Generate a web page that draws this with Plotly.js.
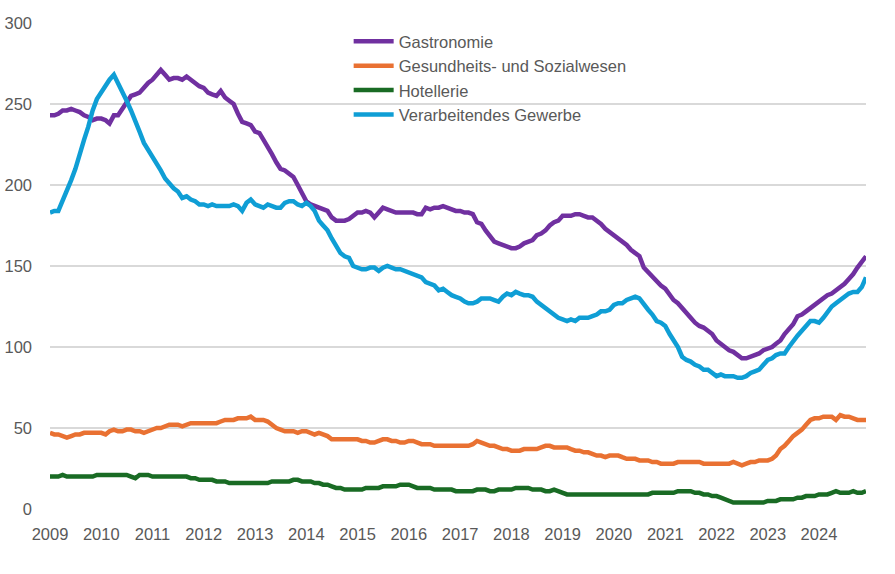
<!DOCTYPE html>
<html>
<head>
<meta charset="utf-8">
<script src="https://cdn.plot.ly/plotly-3.0.1.min.js"></script>
<style>
  html, body { margin: 0; padding: 0; background: #fff; }
  #grafico { width: 895px; height: 574px; }
</style>
</head>
<body>
<div id="grafico"></div>
<script>
// Monatswerte Jan 2009 - Dez 2024
var jahre = [2009, 2010, 2011, 2012, 2013, 2014, 2015, 2016, 2017, 2018, 2019, 2020, 2021, 2022, 2023, 2024];
var namen = ['Gastronomie', 'Gesundheits- und Sozialwesen', 'Hotellerie', 'Verarbeitendes Gewerbe'];

var gastronomie = [
  243, 243, 244, 246, 246, 247, 246, 245, 243, 242, 240, 241,
  241, 240, 238, 243, 243, 247, 251, 255, 256, 257, 260, 263,
  265, 268, 271, 268, 265, 266, 266, 265, 267, 265, 263, 261,
  260, 257, 256, 255, 258, 254, 252, 250, 244, 239, 238, 237,
  233, 232, 228, 224, 219, 214, 210, 209, 207, 205, 200, 195,
  190, 188, 187, 186, 185, 184, 180, 178, 178, 178, 179, 181,
  183, 183, 184, 183, 180, 183, 186, 185, 184, 183, 183, 183,
  183, 183, 182, 182, 186, 185, 186, 186, 187, 186, 185, 184,
  184, 183, 183, 182, 177, 176, 172, 168, 165, 164, 163, 162,
  161, 161, 162, 164, 165, 166, 169, 170, 172, 175, 177, 178,
  181, 181, 181, 182, 182, 181, 180, 180, 178, 176, 173, 171,
  169, 167, 165, 163, 160, 158, 156, 149, 146, 143, 140, 138,
  136, 132, 129, 127, 124, 120, 118, 115, 113, 112, 110, 108,
  104, 102, 100, 98, 97, 95, 93, 93, 94, 95, 96, 98,
  99, 100, 102, 104, 108, 111, 114, 119, 120, 122, 124, 126,
  128, 130, 132, 133, 135, 137, 139, 142, 145, 149, 153, 156
];

var gesundheit = [
  47, 46, 46, 45, 44, 45, 46, 46, 47, 47, 47, 47,
  47, 46, 48, 49, 48, 48, 49, 49, 48, 48, 47, 48,
  49, 50, 50, 51, 52, 52, 52, 51, 52, 53, 53, 53,
  53, 53, 53, 53, 54, 55, 55, 55, 56, 56, 56, 57,
  55, 55, 55, 54, 52, 50, 49, 48, 48, 48, 47, 48,
  48, 47, 46, 47, 46, 45, 43, 43, 43, 43, 43, 43,
  43, 42, 42, 41, 41, 42, 43, 43, 42, 42, 41, 41,
  42, 42, 41, 40, 40, 40, 39, 39, 39, 39, 39, 39,
  39, 39, 39, 40, 42, 41, 40, 39, 39, 38, 37, 37,
  36, 36, 36, 37, 37, 37, 37, 38, 39, 39, 38, 38,
  38, 38, 37, 36, 36, 35, 35, 34, 33, 33, 32, 33,
  33, 33, 32, 31, 31, 31, 30, 30, 30, 29, 29, 28,
  28, 28, 28, 29, 29, 29, 29, 29, 29, 28, 28, 28,
  28, 28, 28, 28, 29, 28, 27, 28, 29, 29, 30, 30,
  30, 31, 33, 37, 39, 42, 45, 47, 49, 52, 55, 56,
  56, 57, 57, 57, 55, 58, 57, 57, 56, 55, 55, 55
];

var hotellerie = [
  20, 20, 20, 21, 20, 20, 20, 20, 20, 20, 20, 21,
  21, 21, 21, 21, 21, 21, 21, 20, 19, 21, 21, 21,
  20, 20, 20, 20, 20, 20, 20, 20, 20, 19, 19, 18,
  18, 18, 18, 17, 17, 17, 16, 16, 16, 16, 16, 16,
  16, 16, 16, 16, 17, 17, 17, 17, 17, 18, 18, 17,
  17, 17, 16, 16, 15, 15, 14, 13, 13, 12, 12, 12,
  12, 12, 13, 13, 13, 13, 14, 14, 14, 14, 15, 15,
  15, 14, 13, 13, 13, 13, 12, 12, 12, 12, 12, 11,
  11, 11, 11, 11, 12, 12, 12, 11, 11, 12, 12, 12,
  12, 13, 13, 13, 13, 12, 12, 12, 11, 11, 12, 11,
  10, 9, 9, 9, 9, 9, 9, 9, 9, 9, 9, 9,
  9, 9, 9, 9, 9, 9, 9, 9, 9, 10, 10, 10,
  10, 10, 10, 11, 11, 11, 11, 10, 10, 9, 9, 8,
  8, 7, 6, 5, 4, 4, 4, 4, 4, 4, 4, 4,
  5, 5, 5, 6, 6, 6, 6, 7, 7, 8, 8, 8,
  9, 9, 9, 10, 11, 10, 10, 10, 11, 10, 10, 11
];

var gewerbe = [
  183, 184, 184, 190, 196, 203, 210, 220, 228, 236, 246, 253,
  257, 262, 265, 268, 263, 257, 252, 246, 240, 233, 226, 222,
  218, 214, 209, 204, 201, 198, 196, 192, 193, 191, 190, 188,
  188, 187, 188, 187, 187, 187, 187, 188, 187, 184, 189, 191,
  188, 187, 186, 188, 187, 186, 186, 189, 190, 190, 188, 187,
  189, 187, 184, 178, 175, 172, 167, 162, 158, 156, 155, 150,
  149, 148, 148, 149, 149, 147, 149, 150, 149, 148, 148, 147,
  146, 145, 144, 143, 140, 139, 138, 135, 136, 134, 132, 131,
  130, 128, 127, 127, 128, 130, 130, 130, 129, 128, 131, 133,
  132, 134, 133, 132, 132, 131, 128, 126, 124, 122, 120, 118,
  117, 116, 117, 116, 118, 118, 118, 119, 120, 122, 122, 123,
  126, 127, 127, 129, 130, 131, 130, 127, 123, 120, 116, 115,
  113, 108, 104, 100, 94, 92, 91, 89, 88, 86, 86, 84,
  82, 83, 82, 82, 82, 81, 81, 82, 84, 85, 86, 89,
  92, 93, 95, 96, 96, 100, 104, 107, 110, 113, 116, 116,
  115, 118, 122, 125, 127, 129, 131, 133, 134, 134, 137, 143
];

var farben = ['#7030a0', '#e97132', '#196b24', '#0f9ed5'];

// x-Achse: erster Tag jedes Monats
var monate = [];
jahre.forEach(function (j) {
  for (var m = 1; m <= 12; m++) {
    monate.push(j + '-' + (m < 10 ? '0' + m : m) + '-01');
  }
});

var reihen = [gastronomie, gesundheit, hotellerie, gewerbe];

var data = reihen.map(function (werte, k) {
  return {
    x: monate,
    y: werte,
    name: namen[k],
    type: 'scatter',
    mode: 'lines',
    line: { color: farben[k], width: 4.5 }
  };
});

var schrift = { family: 'Liberation Sans, Arial, sans-serif', size: 16.5, color: '#595959' };

var layout = {
  width: 895,
  height: 574,
  margin: { l: 50, r: 29, t: 23, b: 65 },
  paper_bgcolor: '#ffffff',
  plot_bgcolor: '#ffffff',
  font: schrift,
  showlegend: true,
  legend: {
    x: 0.366,
    y: 0.998,
    xanchor: 'left',
    yanchor: 'top',
    bgcolor: 'rgba(0,0,0,0)',
    font: schrift,
    itemwidth: 40
  },
  xaxis: {
    type: 'date',
    range: ['2009-01-01', '2024-12-01'],
    tick0: '2009-01-01',
    dtick: 'M12',
    tickformat: '%Y',
    showgrid: false,
    zeroline: false,
    showline: false,
    ticks: '',
    ticklabelstandoff: 13,
    tickfont: schrift
  },
  yaxis: {
    range: [0, 300],
    dtick: 50,
    showgrid: true,
    gridcolor: '#d9d9d9',
    gridwidth: 1.5,
    zeroline: false,
    showline: false,
    ticks: '',
    ticklabelstandoff: 17,
    tickfont: schrift
  }
};

Plotly.newPlot('grafico', data, layout, { displayModeBar: false, staticPlot: true });
</script>
</body>
</html>
